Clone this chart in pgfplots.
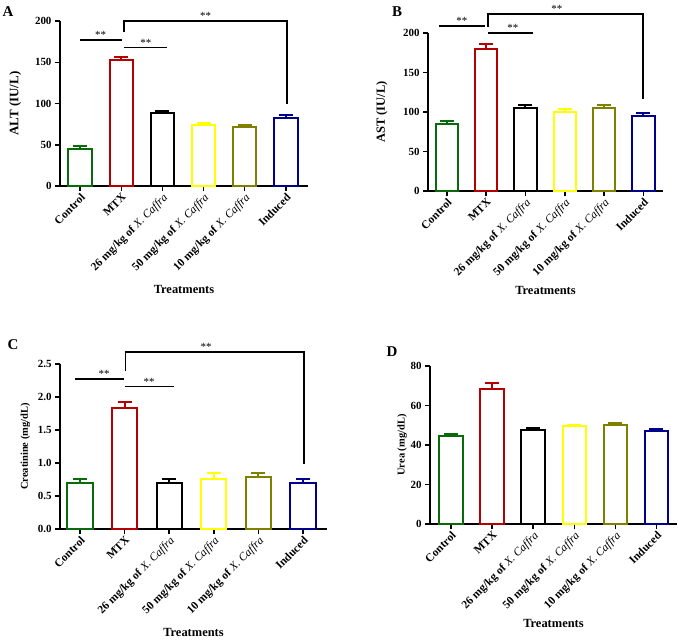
\documentclass[border=0pt]{standalone}
\usepackage{pgfplots}
\pgfplotsset{compat=1.18}
\usepackage{fontspec}
\setmainfont{Liberation Serif}
\definecolor{cgreen}{RGB}{10,105,10}
\definecolor{cred}{RGB}{180,0,0}
\definecolor{cyel}{RGB}{255,255,0}
\definecolor{colive}{RGB}{128,128,0}
\definecolor{cblue}{RGB}{0,0,140}
\tikzset{br/.style={line width=1.8bp, black}}
\pgfplotsset{
  panel/.style={
    scale only axis, anchor=south west,
    axis lines=left, axis line style={-, line width=1.5bp},
    tick style={line width=1.5bp, black}, tick align=outside, major tick length=5bp,
    xtick={0,...,5},
    xticklabels={\textbf{Control},\textbf{MTX},\textbf{26 mg/kg of }\textit{X. Caffra},\textbf{50 mg/kg of }\textit{X. Caffra},\textbf{10 mg/kg of }\textit{X. Caffra},\textbf{Induced}},
    x tick label style={rotate=45, anchor=north east, font=\fontsize{11.5}{13}\selectfont, inner sep=1bp},
    y tick label style={font=\bfseries\fontsize{11}{13}\selectfont},
    /pgf/number format/assume math mode=true,
    xlabel={Treatments},
    xlabel style={font=\bfseries\fontsize{12.5}{14}\selectfont, at={(axis description cs:0.5,-0.63)}, anchor=center},
    enlargelimits=false, clip=false, ymin=0,
  },
  bars/.style={ybar, bar shift=0pt, bar width=0.57, draw=#1, fill=white, line width=2bp,
    error bars/y dir=plus, error bars/y explicit,
    error bars/error mark=-,
    error bars/error bar style={line width=2bp, draw=#1},
    error bars/error mark options={rotate=90, line width=2bp, mark size=7bp, draw=#1}},
}
\newcommand{\st}{\fontsize{11}{12}\selectfont **}
\begin{document}
\begin{tikzpicture}
\useasboundingbox (0,0) rectangle (678bp,-642bp);
\node[font=\bfseries\fontsize{15}{17}\selectfont] at (8bp,-12bp) {A};
\node[font=\bfseries\fontsize{15}{17}\selectfont] at (397bp,-12bp) {B};
\node[font=\bfseries\fontsize{15}{17}\selectfont] at (13bp,-345bp) {C};
\node[font=\bfseries\fontsize{15}{17}\selectfont] at (392bp,-352bp) {D};
% Panel A
\begin{axis}[panel, at={(60bp,-186bp)}, width=248bp, height=165bp,
  xmin=-0.49, xmax=5.54, ymax=200, ytick={0,50,...,200},
  ylabel={ALT (IU/L)},
  ylabel style={font=\bfseries\fontsize{13}{15}\selectfont, at={(axis description cs:-0.18,0.5)}, anchor=center}]
\addplot[bars=cgreen] coordinates {(0,45) +- (0,3.5)};
\addplot[bars=cred] coordinates {(1,153) +- (0,3.5)};
\addplot[bars=black] coordinates {(2,89) +- (0,2)};
\addplot[bars=cyel] coordinates {(3,74) +- (0,2)};
\addplot[bars=colive] coordinates {(4,72) +- (0,2.5)};
\addplot[bars=cblue] coordinates {(5,83) +- (0,3)};
\draw[br] (axis cs:0,177) -- (axis cs:1.02,177);
\node[anchor=south, inner sep=1bp] at (axis cs:0.5,177) {\st};
\draw[br] (axis cs:1.07,168) -- (axis cs:2.1,168);
\node[anchor=south, inner sep=1bp] at (axis cs:1.6,168) {\st};
\draw[br] (axis cs:1.07,187) -- (axis cs:1.07,200) -- (axis cs:5.02,200) -- (axis cs:5.02,100);
\node[anchor=south, inner sep=1bp] at (axis cs:3.05,200) {\st};
\end{axis}
% Panel B
\begin{axis}[panel, at={(428bp,-191bp)}, width=235bp, height=158bp,
  xmin=-0.48, xmax=5.5, ymax=200, ytick={0,50,...,200},
  ylabel={AST (IU/L)},
  ylabel style={font=\bfseries\fontsize{12.5}{15}\selectfont, at={(axis description cs:-0.196,0.5)}, anchor=center}]
\addplot[bars=cgreen] coordinates {(0,85) +- (0,4)};
\addplot[bars=cred] coordinates {(1,180) +- (0,6.5)};
\addplot[bars=black] coordinates {(2,105) +- (0,3.5)};
\addplot[bars=cyel] coordinates {(3,100) +- (0,4)};
\addplot[bars=colive] coordinates {(4,105) +- (0,3.5)};
\addplot[bars=cblue] coordinates {(5,95) +- (0,3.5)};
\draw[br] (axis cs:-0.2,209) -- (axis cs:0.96,209);
\node[anchor=south, inner sep=1bp] at (axis cs:0.38,209) {\st};
\draw[br] (axis cs:1.05,200) -- (axis cs:2.2,200);
\node[anchor=south, inner sep=1bp] at (axis cs:1.68,200) {\st};
\draw[br] (axis cs:1.05,208) -- (axis cs:1.05,224) -- (axis cs:5.0,224) -- (axis cs:5.0,117);
\node[anchor=south, inner sep=1bp] at (axis cs:2.8,224) {\st};
\end{axis}
% Panel C
\begin{axis}[panel, at={(60bp,-529bp)}, width=267bp, height=165bp,
  xmin=-0.45, xmax=5.54, ymax=2.5, ytick={0,0.5,...,2.5},
  yticklabel style={/pgf/number format/.cd, fixed, fixed zerofill, precision=1},
  ylabel={Creatinine (mg/dL)},
  ylabel style={font=\bfseries\fontsize{10.5}{13}\selectfont, at={(axis description cs:-0.13,0.5)}, anchor=center}]
\addplot[bars=cgreen] coordinates {(0,0.69) +- (0,0.07)};
\addplot[bars=cred] coordinates {(1,1.83) +- (0,0.09)};
\addplot[bars=black] coordinates {(2,0.69) +- (0,0.07)};
\addplot[bars=cyel] coordinates {(3,0.76) +- (0,0.09)};
\addplot[bars=colive] coordinates {(4,0.79) +- (0,0.06)};
\addplot[bars=cblue] coordinates {(5,0.69) +- (0,0.07)};
\draw[br] (axis cs:-0.11,2.27) -- (axis cs:0.99,2.27);
\node[anchor=south, inner sep=1bp] at (axis cs:0.54,2.27) {\st};
\draw[br] (axis cs:1.01,2.16) -- (axis cs:2.1,2.16);
\node[anchor=south, inner sep=1bp] at (axis cs:1.55,2.16) {\st};
\draw[br] (axis cs:1.02,2.40) -- (axis cs:1.02,2.68) -- (axis cs:5.02,2.68) -- (axis cs:5.02,0.98);
\node[anchor=south, inner sep=1bp] at (axis cs:2.83,2.68) {\st};
\end{axis}
% Panel D
\begin{axis}[panel, at={(430bp,-524bp)}, width=247bp, height=158bp,
  xmin=-0.51, xmax=5.5, ymax=80, ytick={0,20,...,80},
  ylabel={Urea (mg/dL)},
  ylabel style={font=\bfseries\fontsize{10.5}{13}\selectfont, at={(axis description cs:-0.113,0.5)}, anchor=center}]
\addplot[bars=cgreen] coordinates {(0,44.6) +- (0,1)};
\addplot[bars=cred] coordinates {(1,68.3) +- (0,2.9)};
\addplot[bars=black] coordinates {(2,47.6) +- (0,1)};
\addplot[bars=cyel] coordinates {(3,49.5) +- (0,0.8)};
\addplot[bars=colive] coordinates {(4,50.3) +- (0,1)};
\addplot[bars=cblue] coordinates {(5,47) +- (0,1.1)};
\end{axis}
\end{tikzpicture}
\end{document}
